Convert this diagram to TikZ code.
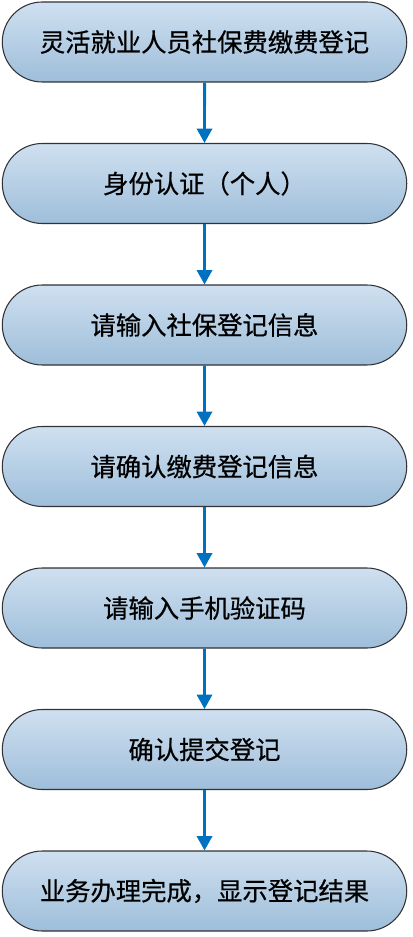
\documentclass[tikz,border=0pt]{standalone}
\usepackage{fontspec}
\newfontfamily\cjk[FakeBold=0.6]{Noto Sans CJK SC}
\usetikzlibrary{arrows.meta,positioning,shapes.misc}
\definecolor{steptop}{RGB}{207,224,240}
\definecolor{stepbot}{RGB}{158,190,218}
\definecolor{edge}{RGB}{50,50,55}
\definecolor{flowblue}{RGB}{0,112,192}
\tikzset{
  >={Triangle[length=3.8mm,width=4mm]},
  stage/.style={rounded rectangle,draw=edge,thick,top color=steptop,bottom color=stepbot,
    minimum width=310pt,minimum height=60pt,font=\cjk\fontsize{19}{22}\selectfont},
  flow/.style={->,line width=2.2pt,draw=flowblue},
}
\begin{document}
\begin{tikzpicture}[x=0.75pt,y=-0.75pt]
    \useasboundingbox (0,0) rectangle (412,937);
    \foreach \y/\t [count=\k] in {42/灵活就业人员社保费缴费登记,
                             183.5/身份认证（个人）,
                             325/请输入社保登记信息,
                             466.5/请确认缴费登记信息,
                             608/请输入手机验证码,
                             749.5/确认提交登记,
                             891/业务办理完成，显示登记结果}{
      \node[stage] (s\k) at (204.5,\y) {\t};
    }
    \foreach \k [evaluate=\k as \n using int(\k+1)] in {1,...,6}
      \draw[flow] (s\k) -- (s\n);
  \end{tikzpicture}
\end{document}
